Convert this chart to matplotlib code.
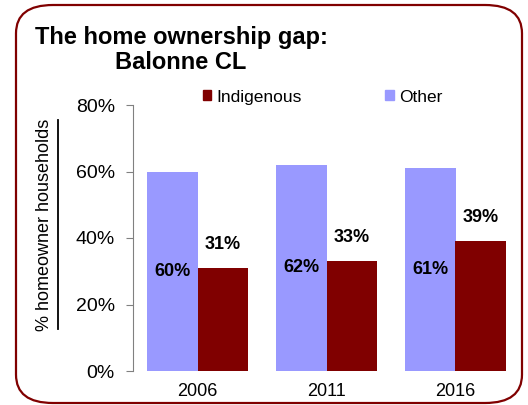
import matplotlib.pyplot as plt
import numpy as np
from matplotlib.patches import FancyBboxPatch, Patch
from matplotlib.lines import Line2D

plt.rcParams['font.family'] = ['Liberation Sans', 'DejaVu Sans']

# data
years = ['2006', '2011', '2016']
other = [60, 62, 61]
indigenous = [31, 33, 39]
yticks = [0, 20, 40, 60, 80]

c_other = '#9999FF'
c_indig = '#800000'

fig = plt.figure(figsize=(5.28, 4.05), dpi=100)
ax = fig.add_axes([133 / 528, 1 - 371 / 405, 387 / 528, 266 / 405])

x = np.arange(len(years))
w = 0.39
b_oth = ax.bar(x - w / 2, other, w, color=c_other, label='Other')
b_ind = ax.bar(x + w / 2, indigenous, w, color=c_indig, label='Indigenous')

ax.bar_label(b_oth, labels=[f'{v}%' for v in other], label_type='center',
             fontsize=13, fontweight='bold')
ax.bar_label(b_ind, labels=[f'{v}%' for v in indigenous], padding=11,
             fontsize=13, fontweight='bold')

ax.set_xlim(-0.5, 2.5)
ax.set_ylim(0, 80)
ax.set_yticks(yticks)
ax.set_yticklabels([f'{t}%' for t in yticks], fontsize=14)
ax.set_xticks(x)
ax.set_xticklabels(years, fontsize=13)
ax.tick_params(axis='x', length=0, pad=9)
ax.tick_params(axis='y', length=5, color='#808080', pad=8)
for s in ['top', 'right', 'bottom']:
    ax.spines[s].set_visible(False)
ax.spines['left'].set_color('#808080')

# legend (Indigenous first)
ax.legend(handles=[Patch(color=c_indig, label='Indigenous'),
                   Patch(color=c_other, label='Other')],
          ncol=2, loc='center left', bbox_to_anchor=(0.18, 1.03),
          frameon=False, fontsize=12.5, handlelength=0.5, handleheight=0.5,
          handletextpad=0.3, columnspacing=4.8, borderpad=0, borderaxespad=0)

# title
fig.text(181 / 528, 1 - 26 / 405, 'The home ownership gap:\nBalonne CL',
         ha='center', va='top', fontsize=17, fontweight='bold',
         linespacing=1.1)

# y label with underline
fig.text(45 / 528, 1 - 224.5 / 405, '% homeowner households', rotation=90,
         ha='center', va='center', fontsize=13)
fig.add_artist(Line2D([58 / 528, 58 / 528], [1 - 120 / 405, 1 - 329 / 405],
                      color='black', lw=1.3))

# rounded border
fig.add_artist(FancyBboxPatch((16 / 528, 2 / 405), 506 / 528, 398 / 405,
                              boxstyle='round,pad=0,rounding_size=0.07',
                              transform=fig.transFigure, fill=False,
                              edgecolor='#800000', lw=1.6))

fig.savefig('out.png', dpi=100)
